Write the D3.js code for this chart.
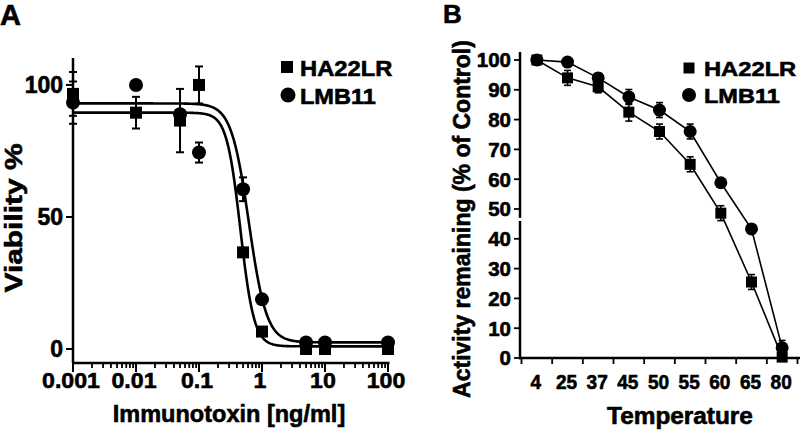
<!DOCTYPE html>
<html><head><meta charset="utf-8">
<script src="https://cdn.jsdelivr.net/npm/d3@7"></script>
<style>html,body{margin:0;padding:0;background:#fff;}svg{display:block;}</style>
</head><body>
<svg id="chart" width="800" height="436"></svg>
<script>
// ---------- Panel A data ----------
const concA = [0.001, 0.01, 0.05, 0.1, 0.5, 1, 5, 10, 100];
const ha22lrA = [96.6, 89.5, 86.5, 100, 36.6, 6.6, 0, 0, 0];
const ha22lrAErr = [8.3, 6, 12, 7, 0, 0, 0, 0, 0];
const lmb11A = [93.3, 100, 88.9, 74.4, 60.5, 18.8, 2.5, 2.5, 2.5];
const lmb11AErr = [8, 0, 0, 3.8, 4.5, 0, 0, 0, 0];
// fitted 4-parameter logistic curves [HA22LR, LMB11]
const fitTop = [89.5, 93];
const fitBottom = [1, 2.5];
const fitIC50 = [0.454, 0.62];
const fitHill = [4, 3.1];
const xTicksA = [0.001, 0.01, 0.1, 1, 10, 100];
const xTickLabelsA = ["0.001", "0.01", "0.1", "1", "10", "100"];
const yTicksA = [0, 50, 100];

// ---------- Panel B data ----------
const temps = ["4", "25", "37", "45", "50", "55", "60", "65", "80"];
const ha22lrB = [100, 94, 91, 82.5, 76, 65, 48.6, 25.5, 0.3];
const ha22lrBErr = [0, 2.5, 2, 3, 2.5, 2.5, 2.5, 2.5, 1];
const lmb11B = [100, 99.3, 94, 87.6, 83.2, 76, 58.8, 43.3, 3.4];
const lmb11BErr = [0, 1, 1.5, 2.5, 2.5, 2.5, 1, 1, 2.5];
const yTicksB = [0, 10, 20, 30, 40, 50, 60, 70, 80, 90, 100];

const seriesNames = ["HA22LR", "LMB11"];

const FONT = "'Liberation Sans', Arial, Helvetica, sans-serif";
const svg = d3.select("#chart");

function txt(g, s, x, y, size, anchor, sx, rot) {
  return g.append("text")
    .attr("transform", `translate(${x},${y})` + (rot ? ` rotate(${rot})` : "") + ` scale(${sx || 1},1)`)
    .attr("font-family", FONT).attr("font-weight", "bold")
    .attr("font-size", size).attr("text-anchor", anchor || "start")
    .attr("fill", "#000").attr("stroke", "#000").attr("stroke-width", 0.6)
    .text(s);
}
function marker(g, type, x, y, size) {
  if (type === "square") {
    g.append("rect").attr("x", x - size / 2).attr("y", y - size / 2)
      .attr("width", size).attr("height", size).attr("fill", "#000");
  } else {
    g.append("circle").attr("cx", x).attr("cy", y).attr("r", size / 2).attr("fill", "#000");
  }
}
function errBar(g, x, y0, y1, cap, w) {
  g.append("line").attr("x1", x).attr("x2", x).attr("y1", y0).attr("y2", y1)
    .attr("stroke", "#000").attr("stroke-width", w);
  [y0, y1].forEach(y => g.append("line").attr("x1", x - cap / 2).attr("x2", x + cap / 2)
    .attr("y1", y).attr("y2", y).attr("stroke", "#000").attr("stroke-width", w));
}

// ================= PANEL A =================
{
  const g = svg.append("g");
  const x = d3.scaleLog().domain([0.001, 100]).range([73, 388]);
  const y = d3.scaleLinear().domain([-5.3, 110.2]).range([363, 58]);

  g.append("line").attr("x1", 73).attr("x2", 73).attr("y1", y(110.2)).attr("y2", y(-5.3))
    .attr("stroke", "#000").attr("stroke-width", 2.5);
  g.append("line").attr("x1", 72).attr("x2", x(100) + 1.5).attr("y1", 363).attr("y2", 363)
    .attr("stroke", "#000").attr("stroke-width", 2.5);

  yTicksA.forEach(v => {
    g.append("line").attr("x1", 66).attr("x2", 73).attr("y1", y(v)).attr("y2", y(v))
      .attr("stroke", "#000").attr("stroke-width", 2);
    txt(g, String(v), 63, y(v) + 8.3, 23, "end", 1.0);
  });
  const minor = [];
  for (let e = -3; e < 2; e++) for (let m = 2; m <= 9; m++) minor.push(m * Math.pow(10, e));
  minor.forEach(v => g.append("line").attr("x1", x(v)).attr("x2", x(v)).attr("y1", 363).attr("y2", 368)
    .attr("stroke", "#000").attr("stroke-width", 1.8));
  xTicksA.forEach((v, i) => {
    g.append("line").attr("x1", x(v)).attr("x2", x(v)).attr("y1", 363).attr("y2", 372)
      .attr("stroke", "#000").attr("stroke-width", 2);
    txt(g, xTickLabelsA[i], x(v) - 2, 388, 22.5, "middle", 1.03);
  });
  txt(g, "Immunotoxin [ng/ml]", 229, 421.5, 24, "middle", 0.98);
  txt(g, "Viability %", 22, 218, 24.5, "middle", 1.22, -90);
  txt(g, "A", 0, 25, 29, "start", 1);

  const line = d3.line().x(d => x(d[0])).y(d => y(d[1]));
  [0, 1].forEach(k => {
    const pts = d3.range(0, 501).map(i => {
      const c = Math.pow(10, -3 + 5 * i / 500);
      return [c, fitBottom[k] + (fitTop[k] - fitBottom[k]) / (1 + Math.pow(c / fitIC50[k], fitHill[k]))];
    });
    g.append("path").attr("d", line(pts)).attr("fill", "none").attr("stroke", "#000").attr("stroke-width", 2.6);
  });

  concA.forEach((c, i) => {
    if (ha22lrAErr[i] > 0) errBar(g, x(c), y(ha22lrA[i] + ha22lrAErr[i]), y(ha22lrA[i] - ha22lrAErr[i]), 8, 2);
    if (lmb11AErr[i] > 0) errBar(g, x(c), y(lmb11A[i] + lmb11AErr[i]), y(lmb11A[i] - lmb11AErr[i]), 8, 2);
  });
  concA.forEach((c, i) => marker(g, "square", x(c), y(ha22lrA[i]), 12));
  concA.forEach((c, i) => marker(g, "circle", x(c), y(lmb11A[i]), 14));

  marker(g, "square", 287, 67, 12);
  txt(g, seriesNames[0], 300, 76, 22, "start", 1.08);
  marker(g, "circle", 288, 95, 15);
  txt(g, seriesNames[1], 300, 103.5, 22, "start", 1.07);
}

// ================= PANEL B =================
{
  const g = svg.append("g");
  const x = d3.scaleBand().domain(temps).range([521.5, 797.5]);
  const y = d3.scaleLinear().domain([0, 100]).range([358, 60]);
  const cx = t => x(t) + x.bandwidth() / 2;

  g.append("line").attr("x1", 520).attr("x2", 520).attr("y1", y(102.7)).attr("y2", y(47))
    .attr("stroke", "#000").attr("stroke-width", 2.5);
  g.append("line").attr("x1", 520).attr("x2", 520).attr("y1", y(46)).attr("y2", 359.2)
    .attr("stroke", "#000").attr("stroke-width", 2.5);
  g.append("line").attr("x1", 518.8).attr("x2", 800).attr("y1", 358).attr("y2", 358)
    .attr("stroke", "#000").attr("stroke-width", 2.5);

  yTicksB.forEach(v => {
    g.append("line").attr("x1", 514).attr("x2", 520).attr("y1", y(v)).attr("y2", y(v))
      .attr("stroke", "#000").attr("stroke-width", 1.8);
    txt(g, String(v), 511, y(v) + 7.3, 20.5, "end", 1.0);
  });
  const edges = temps.map(t => x(t)).concat([x(temps[temps.length - 1]) + x.bandwidth()]);
  edges.forEach(e => g.append("line").attr("x1", e).attr("x2", e).attr("y1", 358).attr("y2", 364)
    .attr("stroke", "#000").attr("stroke-width", 1.8));
  temps.forEach(t => txt(g, t, cx(t) - 1, 389, 20.5, "middle", 0.93));

  txt(g, "Temperature", 680, 423.5, 23, "middle", 1.06);
  txt(g, "Activity remaining (% of Control)", 470, 219, 23, "middle", 1, -90);
  txt(g, "B", 443, 23, 26, "start", 1);

  const line = d3.line().x(d => cx(d[0])).y(d => y(d[1]));
  [ha22lrB, lmb11B].forEach(vals => {
    g.append("path").attr("d", line(temps.map((t, i) => [t, vals[i]])))
      .attr("fill", "none").attr("stroke", "#000").attr("stroke-width", 1.6);
  });
  temps.forEach((t, i) => {
    if (ha22lrBErr[i] > 0) errBar(g, cx(t), y(ha22lrB[i] + ha22lrBErr[i]), y(ha22lrB[i] - ha22lrBErr[i]), 7, 1.6);
    if (lmb11BErr[i] > 0) errBar(g, cx(t), y(lmb11B[i] + lmb11BErr[i]), y(lmb11B[i] - lmb11BErr[i]), 7, 1.6);
  });
  temps.forEach((t, i) => marker(g, "square", cx(t), y(ha22lrB[i]), 11));
  temps.forEach((t, i) => marker(g, "circle", cx(t), y(lmb11B[i]), 13));

  marker(g, "square", 689, 68, 11);
  txt(g, seriesNames[0], 704, 75.5, 21, "start", 1.13);
  marker(g, "circle", 689, 95, 14);
  txt(g, seriesNames[1], 704, 102.5, 21, "start", 1.12);
}
</script>
</body></html>
